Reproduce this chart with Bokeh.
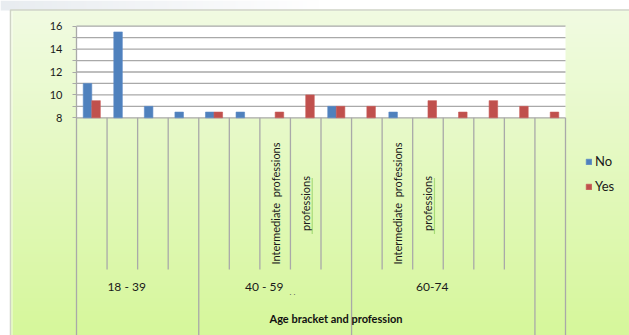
import numpy as np
from bokeh.plotting import figure
from bokeh.models import Range1d, FixedTicker, Legend, LegendItem, ColumnDataSource
from bokeh.core.properties import value
from bokeh.embed import file_html
from bokeh.resources import INLINE

nan = float("nan")

# Survey answers per profession, grouped by age bracket
categories = ["", "", "", "",
              "", "", "Intermediate\u00a0 professions", "professions", "",
              "", "Intermediate\u00a0 professions", "professions", "", "", "",
              ""]
age_brackets = ["18 - 39", "18 - 39", "18 - 39", "18 - 39",
                "40 - 59", "40 - 59", "40 - 59", "40 - 59", "40 - 59",
                "60-74", "60-74", "60-74", "60-74", "60-74", "60-74",
                ""]
no_values = [11.0, 15.5, 9.0, 8.5, 8.5, 8.5, nan, nan, 9.0,
             nan, 8.5, nan, nan, nan, nan, nan]
yes_values = [9.5, nan, nan, nan, 8.5, nan, 8.5, 10.0, 9.0,
              9.0, nan, 9.5, 8.5, 9.5, 9.0, 8.5]
y_ticks = [8, 10, 12, 14, 16]
y_minor_ticks = [9, 11, 13, 15]

FONT = "Lato"
W, H = 629, 335

# screen geometry of the value area; the frame spans the whole canvas
PX_LEFT, PX_RIGHT = 76.0, 565.0
PX_TOP, PX_BASE = 25.7, 117.3
Y_MIN, Y_MAX = 8, 16
n = len(categories)
sx = (PX_RIGHT - PX_LEFT) / n
sy = (PX_BASE - PX_TOP) / (Y_MAX - Y_MIN)


def xu(px):
    return (px - PX_LEFT) / sx


def yu(py):
    return Y_MIN + (PX_BASE - py) / sy


p = figure(width=W, height=H, output_backend="svg", toolbar_location=None,
           x_range=Range1d(xu(0), xu(W)), y_range=Range1d(yu(H), yu(0)),
           x_axis_location=None, min_border=0)
p.outline_line_color = None
p.grid.visible = False
p.background_fill_color = "white"
p.border_fill_color = "white"


def hex_rgb(h):
    h = h.lstrip("#")
    return np.array([int(h[0:2], 16), int(h[2:4], 16), int(h[4:6], 16)],
                    dtype=float)


def vertical_gradient(top_hex, bottom_hex, rows=200):
    top, bot = hex_rgb(top_hex), hex_rgb(bottom_hex)
    t = np.linspace(0, 1, rows)[:, None]  # row 0 is drawn at the bottom
    rgb = bot * (1 - t) + top * t
    img = np.zeros((rows, 1), dtype=np.uint32)
    view = img.view(dtype=np.uint8).reshape((rows, 1, 4))
    view[:, 0, 0] = rgb[:, 0]
    view[:, 0, 1] = rgb[:, 1]
    view[:, 0, 2] = rgb[:, 2]
    view[:, 0, 3] = 255
    return img


def horizontal_gradient(left_hex, right_hex, cols=200):
    left, right = hex_rgb(left_hex), hex_rgb(right_hex)
    t = np.linspace(0, 1, cols)[None, :]
    rgb = left[:, None] * (1 - t) + right[:, None] * t
    img = np.zeros((1, cols), dtype=np.uint32)
    view = img.view(dtype=np.uint8).reshape((1, cols, 4))
    view[0, :, 0] = rgb[0]
    view[0, :, 1] = rgb[1]
    view[0, :, 2] = rgb[2]
    view[0, :, 3] = 255
    return img


# slide backdrop strip above the chart box
p.image_rgba(image=[horizontal_gradient("#e8ecf0", "#ffffff")],
             x=xu(0), y=yu(10), dw=xu(320) - xu(0), dh=yu(0) - yu(10))

# chart box with green gradient
p.image_rgba(image=[vertical_gradient("#f1fbe2", "#d6f79b")],
             x=xu(10), y=yu(H), dw=xu(W) - xu(10), dh=yu(10) - yu(H))
p.line(x=[xu(10), xu(10), xu(W)], y=[yu(H), yu(9.5), yu(9.5)],
       line_color="#cfd3c6", line_width=1.5)
p.line(x=[xu(11.5), xu(11.5)], y=[yu(H), yu(11)],
       line_color="#ffffff", line_width=1, line_alpha=0.7)

# value area
p.quad(left=0, right=n, bottom=Y_MIN, top=Y_MAX,
       fill_color="white", line_color=None)
grid_levels = list(range(Y_MIN, Y_MAX + 1))
p.segment(x0=[0] * len(grid_levels), x1=[n] * len(grid_levels),
          y0=grid_levels, y1=grid_levels,
          line_color="#a9a9a9", line_width=1.3)

# bars
bar_w = 0.28
idx = np.arange(n) + 0.5
src = ColumnDataSource(dict(x_no=idx - bar_w / 2, x_yes=idx + bar_w / 2,
                            no=no_values, yes=yes_values))
r_no = p.vbar(x="x_no", top="no", bottom=Y_MIN, width=bar_w, source=src,
              fill_color="#4f81bd", line_color="#5a8ac6", line_width=0.6)
r_yes = p.vbar(x="x_yes", top="yes", bottom=Y_MIN, width=bar_w, source=src,
               fill_color="#c0504d", line_color="#c95b58", line_width=0.6)

# category separators: long at age bracket boundaries, short inside
short_end = yu(269)
long_end = yu(H)
bounds = [0]
for i in range(1, n):
    if age_brackets[i] != age_brackets[i - 1]:
        bounds.append(i)
bounds.append(n)
sep_x, sep_y1 = [], []
for k in range(1, n + 1):
    sep_x.append(k)
    sep_y1.append(long_end if k in bounds else short_end)
p.segment(x0=sep_x, x1=sep_x, y0=[Y_MIN] * len(sep_x), y1=sep_y1,
          line_color="#a9a9a9", line_width=1.3)

# y axis drawn along the left edge of the value area
ax = p.yaxis[0]
ax.fixed_location = 0
ax.ticker = FixedTicker(ticks=y_ticks, minor_ticks=y_minor_ticks)
ax.bounds = (yu(H), Y_MAX)
ax.axis_line_color = "#a9a9a9"
ax.axis_line_width = 1.3
ax.major_tick_line_color = "#a9a9a9"
ax.minor_tick_line_color = "#a9a9a9"
ax.major_tick_in = 0
ax.major_tick_out = 4
ax.minor_tick_in = 0
ax.minor_tick_out = 4
ax.major_label_standoff = 10
ax.major_label_text_font = FONT
ax.major_label_text_font_size = "11px"
ax.major_label_text_color = "#1a1a1a"

# rotated profession labels
lab_i = [i for i, c in enumerate(categories) if c]
p.text(x=[i + 0.5 for i in lab_i], y=[yu(203)] * len(lab_i),
       text=[categories[i] for i in lab_i], angle=np.pi / 2,
       text_align="center", text_baseline="middle",
       text_font=value(FONT), text_font_size="11px", text_color="#1a1a1a")
# spell-check underline under the lone "professions" labels
sq_i = [i for i in lab_i if categories[i] == "professions"]
p.segment(x0=[i + 0.5 + 6.5 / sx for i in sq_i],
          x1=[i + 0.5 + 6.5 / sx for i in sq_i],
          y0=[yu(233)] * len(sq_i), y1=[yu(177)] * len(sq_i),
          line_color="#6fbf3a", line_width=1.2, line_dash="1 1")

# age bracket labels
grp_x, grp_t = [], []
for a, b in zip(bounds[:-1], bounds[1:]):
    if age_brackets[a]:
        grp_x.append((a + b) / 2)
        grp_t.append(age_brackets[a])
p.text(x=grp_x, y=[yu(286)] * len(grp_x), text=grp_t, x_offset=-11,
       text_align="center", text_baseline="middle",
       text_font=value(FONT), text_font_size="12px", text_color="#1a1a1a")
p.text(x=[xu(292)], y=[yu(291)], text=[". ."], text_align="center",
       text_baseline="middle", text_font=value(FONT),
       text_font_size="8px", text_color="#555555")

# axis title
p.text(x=[n / 2], y=[yu(318)], text=["Age bracket and profession"],
       x_offset=15, text_align="center", text_baseline="middle",
       text_font=value(FONT), text_font_size="11px", text_font_style="bold",
       text_color="#111111")

legend = Legend(items=[LegendItem(label="No", renderers=[r_no]),
                       LegendItem(label="Yes", renderers=[r_yes])],
                location=(585, 141), glyph_width=7, glyph_height=7,
                label_standoff=3, spacing=9, padding=0, margin=0,
                label_height=15, border_line_color=None,
                background_fill_alpha=0, label_text_font=FONT,
                label_text_font_size="13px", label_text_color="#1a1a1a")
p.add_layout(legend)

open("out.html", "w").write(file_html(p, INLINE))
